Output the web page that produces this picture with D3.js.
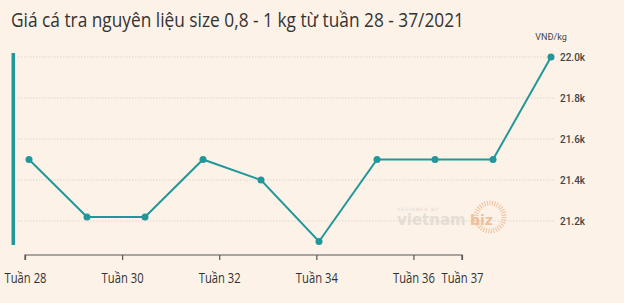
<!DOCTYPE html>
<html>
<head>
<meta charset="utf-8">
<script src="https://cdn.jsdelivr.net/npm/d3@7"></script>
<style>
  body{margin:0;background:#fcf2e8;}
  svg{display:block;}
</style>
</head>
<body>
<div id="chart"></div>
<script>
// weeks and prices (thousand VND/kg)
const weeks=[28,29,30,31,32,33,34,35,36,37];
const prices=[21.5,21.22,21.22,21.5,21.4,21.1,21.5,21.5,21.5,22.0];
const yTicks=[21.2,21.4,21.6,21.8,22.0];
const xTicks=[28,30,32,34,36,37];
const title="Giá cá tra nguyên liệu size 0,8 - 1 kg từ tuần 28 - 37/2021";
const unit="VNĐ/kg";

const width=624,height=303;
const teal="#21979a";

let svg=d3.select("#chart").append("svg")
  .attr("width",width).attr("height",height);

svg.append("rect").attr("width",width).attr("height",height).attr("fill","#fcf2e8");

// title
svg.append("text")
  .attr("x",11).attr("y",27)
  .attr("font-family","Open Sans")
  .attr("font-size",19.5)
  .attr("fill","#333")
  .attr("textLength",453)
  .attr("lengthAdjust","spacingAndGlyphs")
  .text(title);

svg.append("text")
  .attr("x",551).attr("y",40)
  .attr("text-anchor","middle")
  .attr("font-family","Roboto")
  .attr("font-size",9)
  .attr("fill","#444")
  .text(unit);

// scales
let x=d3.scaleLinear().domain([28,37]).range([29,551]);
let y=d3.scaleLinear().domain([21.2,22.0]).range([221,57]);
// bottom axis in the original doesn't line up with the points
let xAxisScale=d3.scaleLinear().domain([28,37]).range([25,462]);

// grid
svg.append("g").selectAll("line")
  .data(yTicks)
  .enter()
  .append("line")
    .attr("x1",18).attr("x2",554)
    .attr("y1",d=>y(d)).attr("y2",d=>y(d))
    .attr("stroke","#e0d6cc")
    .attr("stroke-width",1)
    .attr("stroke-dasharray","1.5,1.5");

// y labels
svg.append("g").selectAll("text")
  .data(yTicks)
  .enter()
  .append("text")
    .attr("x",560)
    .attr("y",d=>y(d)+3.5)
    .attr("font-family","Roboto")
    .attr("font-size",10)
    .attr("font-weight",500)
    .attr("fill","#444")
    .text(d=>d.toFixed(1)+"k");

// left accent bar
svg.append("rect")
  .attr("x",11.5).attr("y",53)
  .attr("width",3.5).attr("height",192)
  .attr("fill",teal);

// watermark
let wm=svg.append("g").attr("opacity",0.6);
wm.append("text")
  .attr("x",397).attr("y",211)
  .attr("font-family","DejaVu Sans")
  .attr("font-size",4.5)
  .attr("fill","#c8c3be")
  .attr("letter-spacing",1)
  .text("DESIGNED BY");
wm.append("text")
  .attr("x",397).attr("y",225)
  .attr("font-family","DejaVu Sans")
  .attr("font-size",15)
  .attr("font-weight","bold")
  .attr("fill","#d6d1cc")
  .text("vietnam");
wm.append("text")
  .attr("x",470).attr("y",225)
  .attr("font-family","DejaVu Sans")
  .attr("font-size",14)
  .attr("font-weight","bold")
  .attr("fill","#e6a06a")
  .text("biz");
wm.append("circle")
  .attr("cx",490).attr("cy",217).attr("r",14)
  .attr("fill","none")
  .attr("stroke","#e8a46e")
  .attr("stroke-width",5)
  .attr("stroke-dasharray","1,1.5");

// line
let line=d3.line()
  .x((d,i)=>x(weeks[i]))
  .y(d=>y(d));
svg.append("path")
  .datum(prices)
  .attr("d",line)
  .attr("fill","none")
  .attr("stroke",teal)
  .attr("stroke-width",2);

svg.append("g").selectAll("circle")
  .data(prices)
  .enter()
  .append("circle")
    .attr("cx",(d,i)=>x(weeks[i]))
    .attr("cy",d=>y(d))
    .attr("r",3.5)
    .attr("fill",teal);

// bottom axis
let ax=svg.append("g")
  .attr("transform","translate(0,255)")
  .call(d3.axisBottom(xAxisScale).tickValues(xTicks).tickSize(5).tickSizeOuter(0).tickFormat(d=>"Tuần "+d));
ax.select(".domain").attr("stroke","#555").attr("stroke-width",1.2).attr("d","M25,5V0H462V5");
ax.selectAll(".tick line").attr("stroke","#555").attr("stroke-width",1.2);
ax.selectAll(".tick text")
  .attr("y",18)
  .attr("font-family","Open Sans")
  .attr("font-size",14)
  .attr("fill","#333")
  .attr("textLength",42)
  .attr("lengthAdjust","spacingAndGlyphs");
</script>
</body>
</html>
